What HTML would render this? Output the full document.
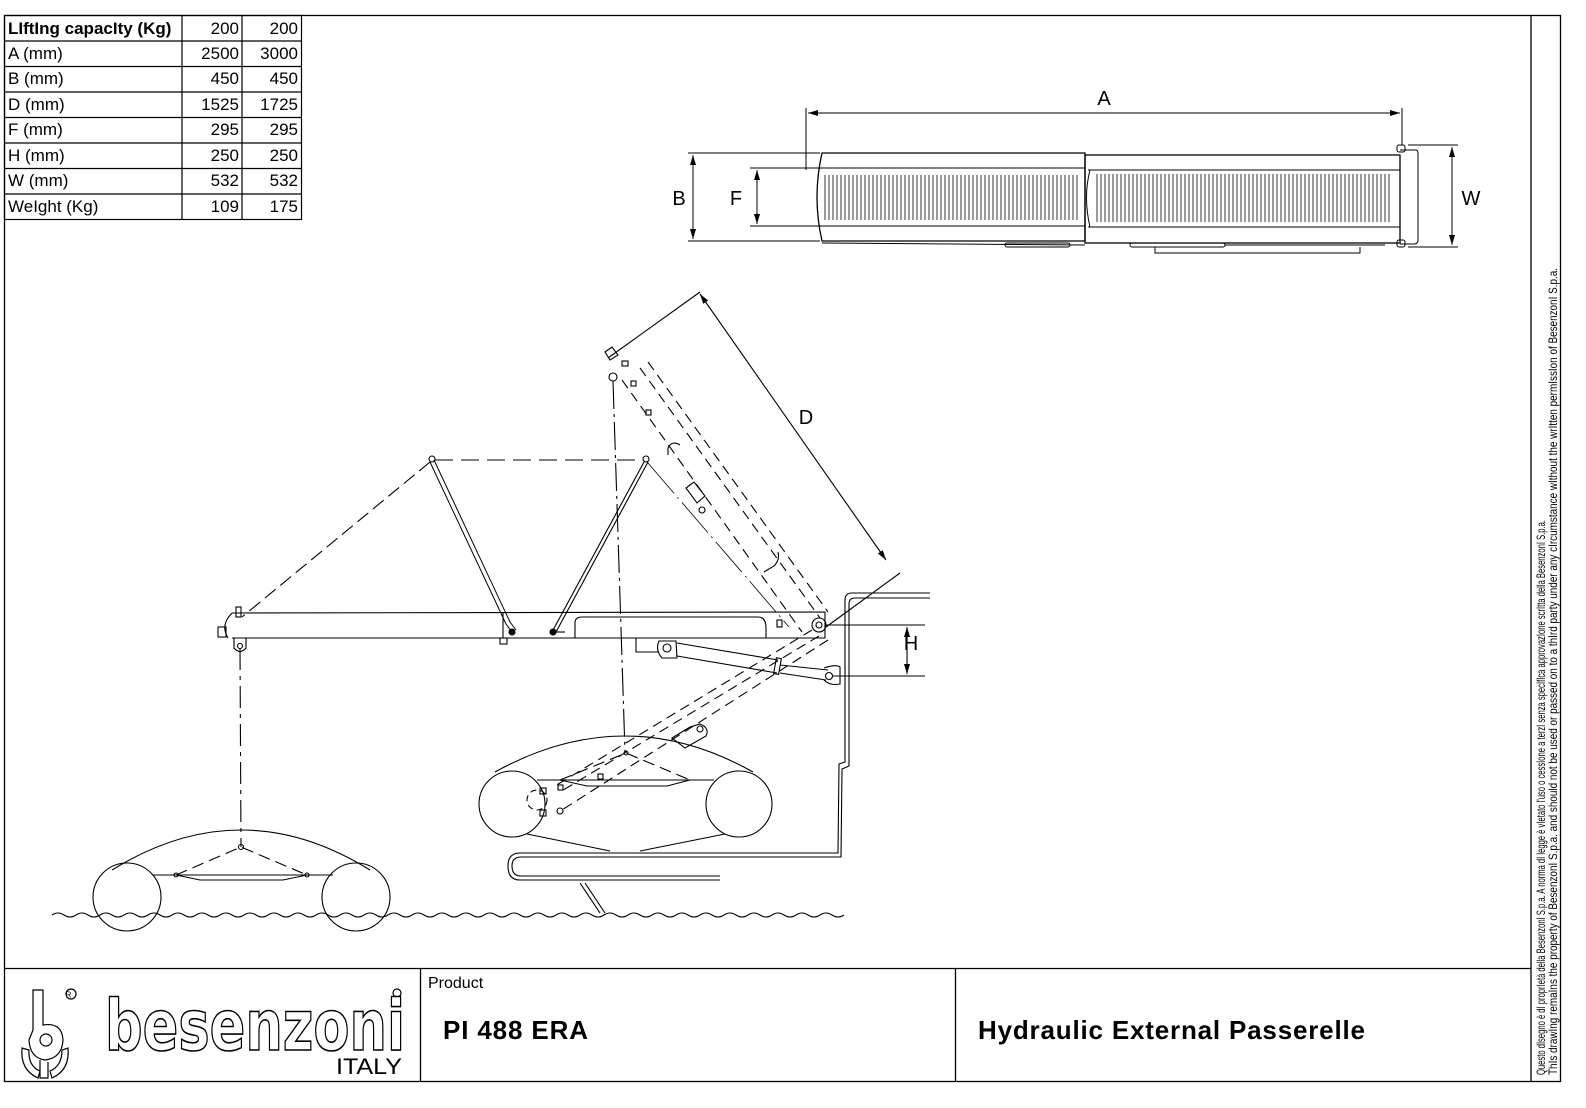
<!DOCTYPE html>
<html><head><meta charset="utf-8"><style>
html,body{margin:0;padding:0;background:#fff;}
svg{display:block;}
text{font-family:"Liberation Sans",Arial,sans-serif;}
</style></head><body>
<svg width="1586" height="1108" viewBox="0 0 1586 1108" xmlns="http://www.w3.org/2000/svg">
<defs>
<pattern id="slat" x="0" y="0" width="4" height="10" patternUnits="userSpaceOnUse">
<line x1="1" y1="0" x2="1" y2="10" stroke="#000" stroke-width="0.8"/>
</pattern>
<marker id="ar" viewBox="0 0 10 6" refX="10" refY="3" markerWidth="10" markerHeight="6" orient="auto-start-reverse" markerUnits="userSpaceOnUse">
<path d="M0,0 L10,3 L0,6 z" fill="#000"/>
</marker>
</defs>
<rect x="0" y="0" width="1586" height="1108" fill="#fff"/>
<g fill="none" stroke="#000" stroke-width="1.3">
<rect x="4.5" y="15.5" width="1556" height="1066"/>
<line x1="1531" y1="15" x2="1531" y2="1081"/>
<line x1="4" y1="968.5" x2="1531" y2="968.5"/>
<line x1="420.5" y1="968" x2="420.5" y2="1081"/>
<line x1="955.5" y1="968" x2="955.5" y2="1081"/>
</g>
<g fill="none" stroke="#000" stroke-width="1.2">
<rect x="4.5" y="15.5" width="297" height="204"/>
<line x1="182" y1="15" x2="182" y2="220"/>
<line x1="242" y1="15" x2="242" y2="220"/>
<line x1="4" y1="41" x2="301" y2="41"/>
<line x1="4" y1="66.5" x2="301" y2="66.5"/>
<line x1="4" y1="92" x2="301" y2="92"/>
<line x1="4" y1="117.5" x2="301" y2="117.5"/>
<line x1="4" y1="143" x2="301" y2="143"/>
<line x1="4" y1="168.5" x2="301" y2="168.5"/>
<line x1="4" y1="194" x2="301" y2="194"/>
</g>
<g font-size="17" fill="#000">
<text x="8" y="34" font-weight="bold">LIftIng capacIty (Kg)</text>
<text x="8" y="59">A (mm)</text>
<text x="8" y="84">B (mm)</text>
<text x="8" y="110">D (mm)</text>
<text x="8" y="135">F (mm)</text>
<text x="8" y="161">H (mm)</text>
<text x="8" y="186">W (mm)</text>
<text x="8" y="212">WeIght (Kg)</text>
<g text-anchor="end">
<text x="239" y="34">200</text><text x="298" y="34">200</text>
<text x="239" y="59">2500</text><text x="298" y="59">3000</text>
<text x="239" y="84">450</text><text x="298" y="84">450</text>
<text x="239" y="110">1525</text><text x="298" y="110">1725</text>
<text x="239" y="135">295</text><text x="298" y="135">295</text>
<text x="239" y="161">250</text><text x="298" y="161">250</text>
<text x="239" y="186">532</text><text x="298" y="186">532</text>
<text x="239" y="212">109</text><text x="298" y="212">175</text>
</g>
</g>

<g fill="none" stroke="#000" stroke-width="1">
<line x1="806" y1="108" x2="806" y2="170"/>
<line x1="1402" y1="108" x2="1402" y2="145"/>
<line x1="808" y1="113" x2="1400" y2="113" marker-start="url(#ar)" marker-end="url(#ar)"/>
<line x1="688" y1="153" x2="820" y2="153"/>
<line x1="688" y1="241" x2="820" y2="241"/>
<line x1="693" y1="155" x2="693" y2="239" marker-start="url(#ar)" marker-end="url(#ar)"/>
<line x1="750" y1="168" x2="815" y2="168"/>
<line x1="750" y1="226" x2="815" y2="226"/>
<line x1="757" y1="170" x2="757" y2="224" marker-start="url(#ar)" marker-end="url(#ar)"/>
<line x1="1408" y1="145" x2="1458" y2="145"/>
<line x1="1408" y1="247" x2="1458" y2="247"/>
<line x1="1452" y1="147" x2="1452" y2="245" marker-start="url(#ar)" marker-end="url(#ar)"/>
<path d="M822,153 L1085,153 L1085,241 L822,241 Q812,197 822,153 Z" stroke-width="1.3"/>
<line x1="815" y1="168" x2="1085" y2="168"/>
<line x1="815" y1="226" x2="1085" y2="226"/>
<rect x="822" y="175" width="258" height="45" fill="url(#slat)" stroke="none"/>
<rect x="1085" y="155" width="315" height="88" stroke-width="1.3"/>
<path d="M1090,170 Q1083,197 1090,227" />
<line x1="1088" y1="170" x2="1400" y2="170"/>
<line x1="1088" y1="227" x2="1400" y2="227"/>
<rect x="1094" y="174" width="298" height="48" fill="url(#slat)" stroke="none"/>
<path d="M1400,150 L1416,150 Q1418,150 1418,154 L1418,240 Q1418,244 1414,244 L1400,244"/>
<rect x="1397" y="145" width="8" height="7" rx="2"/>
<rect x="1397" y="240" width="8" height="7" rx="2"/>
<line x1="822" y1="243" x2="1085" y2="245"/>
<rect x="1005" y="243" width="65" height="4" rx="2"/>
<rect x="1130" y="243" width="95" height="4" rx="2"/>
<path d="M1155,247 L1155,253 L1360,253 L1360,247"/>
<line x1="1225" y1="245" x2="1385" y2="245"/>
</g>
<g font-size="20" fill="#000" text-anchor="middle">
<text x="1104" y="105">A</text>
<text x="679" y="205">B</text>
<text x="736" y="205">F</text>
<text x="1471" y="205">W</text>
</g>

<g fill="none" stroke="#000" stroke-width="1.1">
<path d="M232,613 L825,612 L825,638 L232,638"/>
<path d="M232,613 Q220,625 228,638"/>
<rect x="218" y="627" width="8" height="10"/>
<path d="M234,638 L234,648 Q240,655 246,648 L246,638"/>
<circle cx="240" cy="646" r="2.5"/>
<rect x="236" y="607" width="5" height="10"/>
<line x1="503" y1="612" x2="503" y2="638"/>
<rect x="500" y="638" width="7" height="6"/>
<path d="M575,638 L575,623 Q575,617 582,617 L758,617 Q766,617 766,628 L766,638"/>
<rect x="777" y="620" width="5" height="7"/>
<path d="M430,462 L506,624 L512,632" stroke-width="1"/>
<path d="M434,460 L510,622 L516,630" stroke-width="1"/>
<path d="M644,462 L552,632" />
<path d="M648,462 L556,632" />
<circle cx="432" cy="459" r="3"/>
<circle cx="646" cy="459" r="3"/>
<circle cx="512" cy="632" r="3" fill="#000"/>
<circle cx="553" cy="632" r="3" fill="#000"/>
<line x1="553" y1="632" x2="565" y2="632"/>
<line x1="435" y1="460" x2="643" y2="460" stroke-dasharray="18,8"/>
<line x1="430" y1="462" x2="242" y2="617" stroke-dasharray="14,6"/>
<line x1="648" y1="463" x2="789" y2="627" stroke-dasharray="40,5,2,5" stroke-width="0.8"/>
<circle cx="819" cy="625" r="7"/>
<circle cx="819" cy="625" r="3"/>
<line x1="826" y1="625" x2="925" y2="625"/>
<g stroke-dasharray="10,6">
<line x1="622" y1="380" x2="802" y2="632"/>
<line x1="640" y1="368" x2="820" y2="618"/>
<line x1="648" y1="362" x2="828" y2="612"/>
</g>
<path d="M605,352 L612,347 L618,355 L610,360 Z"/>
<circle cx="613" cy="377" r="4"/>
<rect x="622" y="361" width="6" height="5"/>
<rect x="631" y="381" width="5" height="5"/>
<rect x="646" y="410" width="5" height="5"/>
<path d="M668,455 L668,448 Q672,440 680,445"/>
<path d="M686,488 L694,482 L705,496 L697,503 Z"/>
<circle cx="702" cy="510" r="3"/>
<path d="M764,572 L774,566 Q780,560 778,552"/>
<line x1="608" y1="358" x2="700" y2="292"/>
<line x1="826" y1="627" x2="900" y2="573"/>
<line x1="700" y1="294" x2="886" y2="560" marker-start="url(#ar)" marker-end="url(#ar)"/>
<line x1="613" y1="381" x2="625" y2="752" stroke-dasharray="28,5,3,5"/>
<path d="M636,638 L636,652 L659,652"/>
<path d="M659,641 L676,641 L677,658 L662,658 Q655,650 659,641 Z"/>
<circle cx="667" cy="648" r="4"/>
<line x1="677" y1="643" x2="778" y2="660"/>
<line x1="677" y1="656" x2="777" y2="673"/>
<rect x="775" y="658" width="5" height="16" transform="rotate(10 777 666)"/>
<line x1="780" y1="665" x2="828" y2="670"/>
<line x1="780" y1="673" x2="826" y2="680"/>
<path d="M824,668 Q836,664 840,667 L840,684 Q830,686 824,680"/>
<circle cx="829" cy="676" r="3.5"/>
<line x1="833" y1="676" x2="925" y2="676"/>
<line x1="907" y1="627" x2="907" y2="674" marker-start="url(#ar)" marker-end="url(#ar)"/>
<path d="M930,593 L852,593 Q845,593 845,600 L845,762 L839,764 L838,853 L520,853 Q508,853 508,866 Q508,880 520,880 L720,880"/>
<path d="M930,598 L855,598 Q849,598 849,604 L849,766 L842,769 L841,857 L521,857 Q512,857 512,866 Q512,876 521,876 L720,876"/>
<line x1="580" y1="883" x2="600" y2="913"/>
<line x1="585" y1="883" x2="605" y2="913"/>
<g stroke-dasharray="10,6">
<line x1="812" y1="630" x2="555" y2="786"/>
<line x1="819" y1="636" x2="560" y2="792"/>
<line x1="828" y1="640" x2="562" y2="810"/>
</g>
<path d="M672,738 L690,727 L700,724 Q710,728 706,736 L685,748 Z"/>
<circle cx="700" cy="729" r="3"/>
<circle cx="537" cy="800" r="10" stroke-dasharray="6,4"/>
<rect x="540" y="788" width="6" height="6"/>
<rect x="540" y="810" width="6" height="6"/>
<circle cx="560" cy="811" r="3"/>
<rect x="558" y="785" width="5" height="5"/>
<rect x="598" y="774" width="5" height="5"/>
<path d="M495,772 Q625,700 753,772"/>
<circle cx="512" cy="804" r="33"/>
<circle cx="739" cy="804" r="33"/>
<line x1="537" y1="780" x2="714" y2="780"/>
<path d="M560,780 L587,786 L667,786 L690,780"/>
<path d="M560,780 L626,753 L690,780" stroke-dasharray="12,6"/>
<circle cx="626" cy="753" r="2"/>
<line x1="527" y1="834" x2="610" y2="851"/>
<line x1="640" y1="851" x2="725" y2="834"/>
<line x1="240" y1="648" x2="241" y2="847" stroke-dasharray="22,6,4,6"/>
<path d="M112,870 Q241,790 370,870"/>
<circle cx="127" cy="897" r="34"/>
<circle cx="356" cy="897" r="34"/>
<line x1="153" y1="875" x2="333" y2="875"/>
<path d="M176,875 L200,880 L283,880 L307,875"/>
<path d="M176,875 L241,847 L307,875" stroke-dasharray="12,6"/>
<circle cx="241" cy="847" r="2.5"/>
<circle cx="176" cy="875" r="2"/>
<circle cx="307" cy="875" r="2"/>
<path d="M52,915 q6,-4 12,0 t12,0 t12,0 t12,0 t12,0 t12,0 t12,0 t12,0 t12,0 t12,0 t12,0 t12,0 t12,0 t12,0 t12,0 t12,0 t12,0 t12,0 t12,0 t12,0 t12,0 t12,0 t12,0 t12,0 t12,0 t12,0 t12,0 t12,0 t12,0 t12,0 t12,0 t12,0 t12,0 t12,0 t12,0 t12,0 t12,0 t12,0 t12,0 t12,0 t12,0 t12,0 t12,0 t12,0 t12,0 t12,0 t12,0 t12,0 t12,0 t12,0 t12,0 t12,0 t12,0 t12,0 t12,0 t12,0 t12,0 t12,0 t12,0 t12,0 t12,0 t12,0 t12,0 t12,0 t12,0 t12,0"/>
</g>
<g fill="#000" font-size="20" text-anchor="middle">
<text x="806" y="424">D</text>
<text x="911" y="650">H</text>
</g>

<text x="428" y="988" font-size="16">Product</text>
<text x="443" y="1039" font-size="26" font-weight="bold" textLength="145">PI 488 ERA</text>
<text x="978" y="1039" font-size="26" font-weight="bold" textLength="387">Hydraulic External Passerelle</text>
<g fill="none" stroke="#000" stroke-width="1.2">
<path d="M33,990 L43,990 L43,1025 Q62,1022 63,1040 Q62,1058 45,1060 Q30,1058 29,1040 L33,1030 Z"/>
<circle cx="46" cy="1040" r="6"/>
<path d="M40,1060 L40,1078 L48,1078 L48,1062"/>
<path d="M22,1048 Q20,1070 38,1078 L40,1071 Q28,1066 29,1050 Z"/>
<path d="M68,1048 Q70,1070 52,1078 L50,1071 Q62,1066 62,1050 Z"/>
<circle cx="71" cy="994" r="5"/>
<circle cx="397" cy="993" r="4"/>
</g>
<text x="68.5" y="997.5" font-size="8" text-anchor="middle">R</text>
<text x="105" y="1050" font-size="70" font-weight="bold" fill="#fff" stroke="#000" stroke-width="1.6" textLength="300" lengthAdjust="spacingAndGlyphs" style="font-family:'DejaVu Sans',sans-serif">besenzoni</text>
<text x="402" y="1074" font-size="22" text-anchor="end" textLength="66" lengthAdjust="spacingAndGlyphs">ITALY</text>

<g font-size="12" fill="#000">
<text transform="translate(1545,1075) rotate(-90)" textLength="555" lengthAdjust="spacingAndGlyphs">Questo dIsegno è dI proprIetà della BesenzonI S.p.a. A norma dI legge è vIetato l'uso o cessIone a terzI senza specIfIca approvazIone scrItta della BesenzonI S.p.a.</text>
<text transform="translate(1557,1075) rotate(-90)" textLength="807" lengthAdjust="spacingAndGlyphs">ThIs drawIng remaIns the property of BesenzonI S.p.a. and should not be used or passed on to a thIrd party under any cIrcumstance wIthout the wrItten permIssIon of BesenzonI S.p.a.</text>
</g>
</svg>
</body></html>
